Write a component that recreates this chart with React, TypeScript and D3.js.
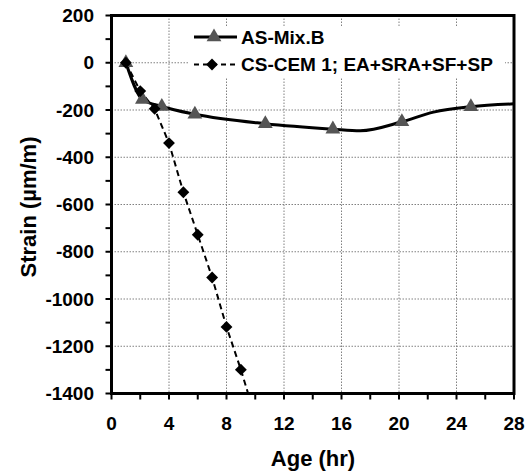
import React from "react";
import * as d3 from "d3";

// AS-Mix.B (triangles, smooth line)
const asAge = [1, 2.15, 3.5, 5.8, 10.7, 15.4, 20.2, 25];
const asStrain = [0, -155, -185, -218, -258, -281, -250, -186];
// traced path of the smoothed line (includes the dip and the end at 28 hr)
const asCurveAge = [1, 2.15, 3.5, 5.8, 10.7, 15.4, 17.3, 20.2, 22.4, 25, 28];
const asCurveStrain = [0, -155, -185, -218, -258, -281, -288, -250, -209, -186, -174];

// CS-CEM 1; EA+SRA+SF+SP (diamonds, dashed)
const csAge = [1, 2, 3, 4, 5, 6, 7, 8, 9, 10];
const csStrain = [0, -120, -195, -340, -548, -728, -909, -1118, -1299, -1500];

const xTicks = [0, 4, 8, 12, 16, 20, 24, 28];
const yTicks = [200, 0, -200, -400, -600, -800, -1000, -1200, -1400];

const legendLabels = ["AS-Mix.B", "CS-CEM 1; EA+SRA+SF+SP"];

const W = 531;
const H = 473;
const margin = { left: 111.5, right: 17, top: 15.5, bottom: 79.5 };
const font = "'Liberation Sans', Arial, sans-serif";

export default function App() {
  const x = d3.scaleLinear().domain([0, 28]).range([margin.left, W - margin.right]);
  const y = d3.scaleLinear().domain([-1400, 200]).range([H - margin.bottom, margin.top]);

  const x0 = x(0), x1 = x(28), y0 = y(-1400), y1 = y(200);

  const asPts: [number, number][] = asCurveAge.map((a, i) => [a, asCurveStrain[i]]);
  const csPts: [number, number][] = csAge.map((a, i) => [a, csStrain[i]]);

  const asLine = d3
    .line<[number, number]>()
    .x((d) => x(d[0]))
    .y((d) => y(d[1]))
    .curve(d3.curveMonotoneX);
  const csLine = d3
    .line<[number, number]>()
    .x((d) => x(d[0]))
    .y((d) => y(d[1]));

  const tri = d3.symbol().type(d3.symbolTriangle).size(95)()!;
  // square turned 45° -> even diamond like the Excel marker
  const dia = d3.symbol().type(d3.symbolSquare).size(70)()!;

  const minorX = d3.range(0, 28.01, 2);
  const minorY = d3.range(-1400, 200.01, 100);

  const legX = 194;
  const legY = [37, 64.5];

  return (
    <div style={{ position: "absolute", left: 0, top: 0 }}>
      <svg width={W} height={H} style={{ display: "block", background: "#fff" }}>
        <defs>
          <clipPath id="plot">
            <rect x={x0} y={y1} width={x1 - x0} height={y0 - y1} />
          </clipPath>
        </defs>

        {/* grid */}
        <g stroke="#808080" strokeWidth={1} strokeDasharray="1.5,1.5">
          {xTicks.slice(1, -1).map((t) => (
            <line key={"gx" + t} x1={x(t)} x2={x(t)} y1={y1} y2={y0} />
          ))}
          {yTicks.slice(1, -1).map((t) => (
            <line key={"gy" + t} x1={x0} x2={x1} y1={y(t)} y2={y(t)} />
          ))}
        </g>

        {/* legend background hides grid */}
        <rect x={189} y={26} width={316} height={52} fill="#fff" />

        {/* series */}
        <g clipPath="url(#plot)">
          <path d={csLine(csPts)!} fill="none" stroke="#000" strokeWidth={2} strokeDasharray="6,4" />
          <path d={asLine(asPts)!} fill="none" stroke="#000" strokeWidth={3} />
          {asAge.map((a, i) => (
            <path key={"t" + i} d={tri} transform={`translate(${x(a)},${y(asStrain[i])})`} fill="#555" />
          ))}
          {csAge.map((a, i) => (
            <path key={"d" + i} d={dia} transform={`translate(${x(a)},${y(csStrain[i])}) rotate(45)`} fill="#000" />
          ))}
        </g>

        {/* ticks */}
        <g stroke="#000" strokeWidth={2}>
          {minorX.map((t) => (
            <line key={"tx" + t} x1={x(t)} x2={x(t)} y1={y0} y2={y0 + 6} />
          ))}
          {minorY.map((t) => (
            <line key={"ty" + t} x1={x0 - 6} x2={x0} y1={y(t)} y2={y(t)} />
          ))}
        </g>

        {/* frame */}
        <rect x={x0} y={y1} width={x1 - x0} height={y0 - y1} fill="none" stroke="#000" strokeWidth={3} />

        {/* tick labels */}
        <g fontFamily={font} fontWeight="bold" fontSize={19} fill="#000">
          {xTicks.map((t) => (
            <text key={"lx" + t} x={x(t)} y={423} textAnchor="middle" dominantBaseline="central">
              {t}
            </text>
          ))}
          {yTicks.map((t) => (
            <text key={"ly" + t} x={94} y={y(t)} textAnchor="end" dominantBaseline="central">
              {t}
            </text>
          ))}
        </g>

        {/* axis titles */}
        <text x={313} y={458} textAnchor="middle" dominantBaseline="central" fontFamily={font} fontWeight="bold" fontSize={22}>
          Age (hr)
        </text>
        <text
          transform="translate(28,207) rotate(-90)"
          textAnchor="middle"
          dominantBaseline="central"
          fontFamily={font}
          fontWeight="bold"
          fontSize={22}
        >
          Strain (µm/m)
        </text>

        {/* legend */}
        <g>
          <line x1={legX} x2={legX + 43} y1={legY[0]} y2={legY[0]} stroke="#000" strokeWidth={3} />
          <path d={tri} transform={`translate(${legX + 20},${legY[0]})`} fill="#555" />
          <line x1={legX} x2={legX + 43} y1={legY[1]} y2={legY[1]} stroke="#000" strokeWidth={2} strokeDasharray="5,4" />
          <path d={dia} transform={`translate(${legX + 18},${legY[1]}) rotate(45)`} fill="#000" />
          {legendLabels.map((l, i) => (
            <text key={l} x={legX + 47} y={legY[i]} dominantBaseline="central" fontFamily={font} fontWeight="bold" fontSize={19}>
              {l}
            </text>
          ))}
        </g>
      </svg>
    </div>
  );
}
